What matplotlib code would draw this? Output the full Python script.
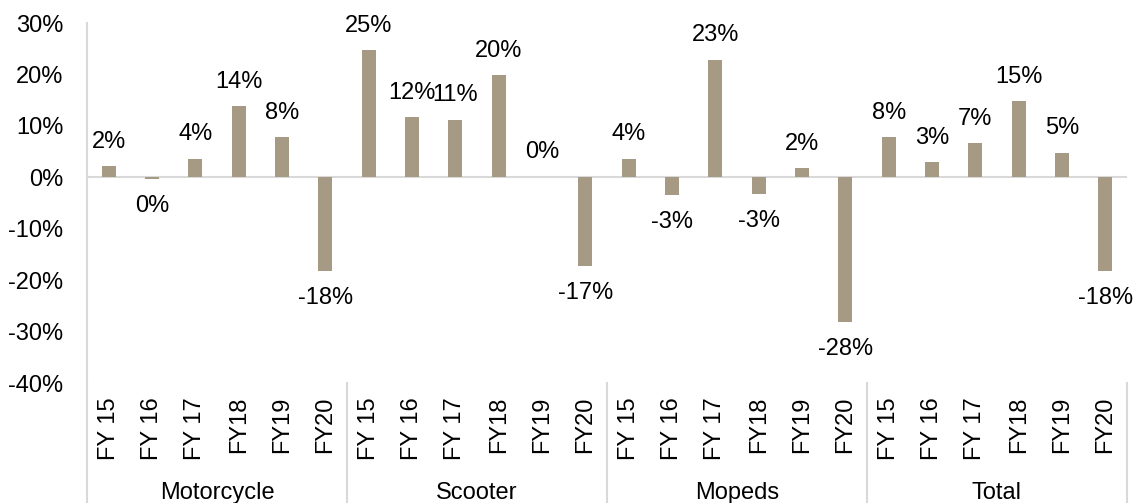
import matplotlib
matplotlib.use("Agg")
import matplotlib.pyplot as plt
import matplotlib.transforms as mtransforms

plt.rcParams['font.family'] = ['Liberation Sans', 'DejaVu Sans']

groups = ["Motorcycle", "Scooter", "Mopeds", "Total"]
years = ["FY 15", "FY 16", "FY 17", "FY18", "FY19", "FY20"]
motorcycle = [2.2, -0.3, 3.6, 13.8, 7.8, -18.2]
scooter = [24.7, 11.7, 11.2, 19.8, 0.1, -17.2]
mopeds = [3.6, -3.4, 22.9, -3.2, 1.8, -28.1]
total = [7.8, 2.9, 6.7, 14.8, 4.8, -18.2]
yticks = [-40, -30, -20, -10, 0, 10, 20, 30]

series = [motorcycle, scooter, mopeds, total]
values = [v for s in series for v in s]
labels = [y for _ in groups for y in years]
x = list(range(len(values)))

bar_color = "#a79a84"
line_color = "#d9d9d9"
fs = 17

fig = plt.figure(figsize=(11.37, 5.03), dpi=100)
ax = fig.add_axes([87/1137, 1-383/503, (1127-87)/1137, 360/503])

ax.bar(x, values, width=0.32, color=bar_color, zorder=2)
ax.axhline(0, color=line_color, lw=1.5, zorder=1)

for xi, v in zip(x, values):
    lab = f"{round(v):.0f}%"
    if lab == "-0%":
        lab = "0%"
    if v >= 0:
        ax.annotate(lab, (xi, v), xytext=(0, 17.5), textcoords="offset points",
                    ha="center", va="center", fontsize=fs)
    else:
        ax.annotate(lab, (xi, v), xytext=(0, -19.5), textcoords="offset points",
                    ha="center", va="center", fontsize=fs)

ax.set_xlim(-0.5, len(values) - 0.5)
ax.set_ylim(-40, 30)
ax.set_yticks(yticks)
ax.set_yticklabels([f"{t}%" for t in yticks], fontsize=fs)
ax.tick_params(axis="y", length=0, pad=17)
ax.set_xticks(x)
ax.set_xticklabels(labels, rotation=90, fontsize=fs)
ax.tick_params(axis="x", length=0, pad=10)

for sp in ["top", "right", "bottom"]:
    ax.spines[sp].set_visible(False)
ax.spines["left"].set_color(line_color)
ax.spines["left"].set_linewidth(1.5)

trans = mtransforms.blended_transform_factory(ax.transData, ax.transAxes)
n = len(years)
for gi, g in enumerate(groups):
    ax.text(gi * n + (n - 1) / 2, -0.305, g, transform=trans, ha="center",
            va="center", fontsize=fs)
for b in range(len(groups) + 1):
    xb = b * n - 0.5
    ax.plot([xb, xb], [0, -0.34], transform=trans, color=line_color, lw=1.5,
            clip_on=False)

fig.savefig("out.png", dpi=100)
